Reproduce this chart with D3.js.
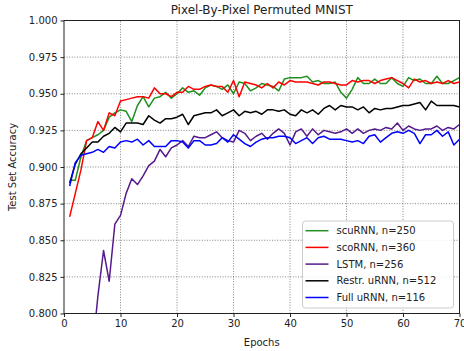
<!DOCTYPE html>
<html>
<head>
<meta charset="utf-8">
<script src="https://cdn.jsdelivr.net/npm/d3@7"></script>
<style>
  body { margin: 0; background: #fff; }
  text { font-family: "DejaVu Sans", sans-serif; fill: #222; }
</style>
</head>
<body>
<div id="chart"></div>
<script>
// epochs 1..70
const epochs = d3.range(1, 71);

const scuRNN = [
  0.891, 0.891, 0.907, 0.918, 0.920, 0.922, 0.925, 0.934, 0.937, 0.939,
  0.938, 0.931, 0.942, 0.948, 0.941, 0.947, 0.948, 0.951, 0.947, 0.950,
  0.954, 0.951, 0.952, 0.949, 0.954, 0.956, 0.955, 0.953, 0.956, 0.950,
  0.958, 0.957, 0.952, 0.954, 0.957, 0.956, 0.955, 0.952, 0.960, 0.961,
  0.961, 0.961, 0.962, 0.958, 0.959, 0.957, 0.957, 0.958, 0.951, 0.947,
  0.953, 0.961, 0.957, 0.957, 0.960, 0.957, 0.957, 0.961, 0.957, 0.955,
  0.961, 0.959, 0.960, 0.957, 0.957, 0.962, 0.957, 0.957, 0.959, 0.961
];

const scoRNN = [
  0.866, 0.882, 0.898, 0.918, 0.920, 0.931, 0.925, 0.937, 0.935, 0.945,
  0.946, 0.947, 0.948, 0.948, 0.947, 0.954, 0.950, 0.950, 0.948, 0.951,
  0.951, 0.955, 0.953, 0.953, 0.955, 0.956, 0.955, 0.955, 0.951, 0.959,
  0.948, 0.958, 0.957, 0.956, 0.954, 0.957, 0.954, 0.958, 0.956, 0.959,
  0.958, 0.958, 0.958, 0.957, 0.956, 0.958, 0.958, 0.957, 0.956, 0.956,
  0.959, 0.958, 0.959, 0.959, 0.957, 0.959, 0.960, 0.961, 0.959, 0.957,
  0.954, 0.960, 0.958, 0.959, 0.957, 0.958, 0.957, 0.959, 0.957, 0.958
];

// LSTM is below the axis for the first epochs
const lstm = [
  null, null, null, null, 0.773, 0.812, 0.843, 0.822, 0.861, 0.867,
  0.882, 0.892, 0.888, 0.894, 0.901, 0.904, 0.912, 0.907, 0.913, 0.915,
  0.918, 0.914, 0.921, 0.920, 0.920, 0.922, 0.924, 0.920, 0.918, 0.917,
  0.925, 0.923, 0.918, 0.921, 0.923, 0.919, 0.923, 0.926, 0.923, 0.915,
  0.924, 0.926, 0.921, 0.926, 0.922, 0.925, 0.924, 0.923, 0.924, 0.926,
  0.923, 0.926, 0.923, 0.925, 0.926, 0.925, 0.927, 0.926, 0.930, 0.925,
  0.928, 0.926, 0.925, 0.926, 0.926, 0.928, 0.925, 0.927, 0.926, 0.929
];

const restrURNN = [
  0.889, 0.902, 0.909, 0.913, 0.917, 0.917, 0.921, 0.923, 0.927, 0.924,
  0.930, 0.930, 0.930, 0.929, 0.935, 0.932, 0.930, 0.933, 0.933, 0.934,
  0.936, 0.929, 0.935, 0.936, 0.937, 0.937, 0.939, 0.935, 0.937, 0.939,
  0.935, 0.938, 0.937, 0.938, 0.936, 0.939, 0.939, 0.938, 0.939, 0.936,
  0.935, 0.939, 0.937, 0.939, 0.936, 0.940, 0.942, 0.939, 0.942, 0.941,
  0.941, 0.939, 0.941, 0.937, 0.940, 0.939, 0.940, 0.940, 0.941, 0.942,
  0.942, 0.943, 0.944, 0.939, 0.945, 0.942, 0.942, 0.942, 0.942, 0.941
];

const fullURNN = [
  0.887, 0.903, 0.908, 0.909, 0.910, 0.912, 0.910, 0.914, 0.913, 0.917,
  0.918, 0.917, 0.919, 0.915, 0.918, 0.914, 0.914, 0.914, 0.918, 0.918,
  0.917, 0.913, 0.918, 0.918, 0.915, 0.915, 0.916, 0.920, 0.917, 0.922,
  0.919, 0.916, 0.914, 0.917, 0.919, 0.920, 0.920, 0.921, 0.921, 0.920,
  0.916, 0.918, 0.920, 0.916, 0.920, 0.921, 0.919, 0.919, 0.919, 0.918,
  0.917, 0.918, 0.916, 0.921, 0.922, 0.917, 0.920, 0.923, 0.924, 0.923,
  0.925, 0.923, 0.916, 0.922, 0.922, 0.925, 0.921, 0.924, 0.915, 0.919
];

const seriesNames = ["scuRNN, n=250", "scoRNN, n=360", "LSTM, n=256", "Restr. uRNN, n=512", "Full uRNN, n=116"];
const seriesValues = [scuRNN, scoRNN, lstm, restrURNN, fullURNN];
const seriesColors = ["#1f8f1f", "#ff0000", "#551a8b", "#000000", "#0000ff"];

const xTicks = [0, 10, 20, 30, 40, 50, 60, 70];
const yTicks = [0.800, 0.825, 0.850, 0.875, 0.900, 0.925, 0.950, 0.975, 1.000];

const width = 464, height = 351;
const margin = { top: 20.5, right: 4.5, bottom: 37.5, left: 64 };

const svg = d3.select("#chart").append("svg")
    .attr("width", width)
    .attr("height", height);

const x = d3.scaleLinear().domain([0, 70]).range([margin.left, width - margin.right]);
const y = d3.scaleLinear().domain([0.8, 1.0]).range([height - margin.bottom, margin.top]);

svg.append("defs").append("clipPath").attr("id", "plot-clip")
    .append("rect")
    .attr("x", x(0)).attr("y", y(1))
    .attr("width", x(70) - x(0)).attr("height", y(0.8) - y(1));

// grid
const grid = svg.append("g");
grid.selectAll("line.gx").data(xTicks.slice(1, -1)).enter().append("line")
    .attr("x1", d => x(d)).attr("x2", d => x(d))
    .attr("y1", y(0.8)).attr("y2", y(1))
    .attr("stroke", "#666").attr("stroke-width", 0.8).attr("stroke-dasharray", "1,1.6");
grid.selectAll("line.gy").data(yTicks.slice(1, -1)).enter().append("line")
    .attr("y1", d => y(d)).attr("y2", d => y(d))
    .attr("x1", x(0)).attr("x2", x(70))
    .attr("stroke", "#666").attr("stroke-width", 0.8).attr("stroke-dasharray", "1,1.6");

// lines
const line = d3.line()
    .defined(d => d[1] !== null)
    .x(d => x(d[0]))
    .y(d => y(d[1]));

const plot = svg.append("g").attr("clip-path", "url(#plot-clip)");
seriesValues.forEach((vals, i) => {
    plot.append("path")
        .datum(epochs.map((e, j) => [e, vals[j]]))
        .attr("fill", "none")
        .attr("stroke", seriesColors[i])
        .attr("stroke-width", 1.5)
        .attr("stroke-linejoin", "round")
        .attr("d", line);
});

// axes
const xAxis = svg.append("g")
    .attr("transform", `translate(0,${y(0.8)})`)
    .call(d3.axisBottom(x).tickValues(xTicks).tickSize(3.5).tickPadding(3).tickFormat(d3.format("d")));
const yAxis = svg.append("g")
    .attr("transform", `translate(${x(0)},0)`)
    .call(d3.axisLeft(y).tickValues(yTicks).tickSize(3.5).tickPadding(3).tickFormat(d3.format(".3f")));

[xAxis, yAxis].forEach(a => {
    a.select(".domain").remove();
    a.selectAll("text").attr("font-size", 10).attr("font-family", "DejaVu Sans, sans-serif").attr("fill", "#222");
    a.selectAll("line").attr("stroke", "#222");
});

// frame
svg.append("rect")
    .attr("x", x(0)).attr("y", y(1))
    .attr("width", x(70) - x(0)).attr("height", y(0.8) - y(1))
    .attr("fill", "none").attr("stroke", "#222").attr("stroke-width", 1);

// labels
svg.append("text")
    .attr("x", (x(0) + x(70)) / 2).attr("y", 14)
    .attr("text-anchor", "middle").attr("font-size", 12)
    .text("Pixel-By-Pixel Permuted MNIST");

svg.append("text")
    .attr("x", (x(0) + x(70)) / 2).attr("y", 346)
    .attr("text-anchor", "middle").attr("font-size", 10)
    .text("Epochs");

svg.append("text")
    .attr("transform", `translate(16,${(y(0.8) + y(1)) / 2}) rotate(-90)`)
    .attr("text-anchor", "middle").attr("font-size", 10)
    .text("Test Set Accuracy");

// legend
const legend = svg.append("g").attr("transform", "translate(302.5,221)");
legend.append("rect")
    .attr("width", 151).attr("height", 87)
    .attr("rx", 3)
    .attr("fill", "#fff").attr("fill-opacity", 0.85)
    .attr("stroke", "#ccc").attr("stroke-width", 1);

const rows = legend.selectAll("g.row").data(seriesNames).enter().append("g")
    .attr("transform", (d, i) => `translate(0,${9.7 + i * 16.7})`);
rows.append("line")
    .attr("x1", 3).attr("x2", 26)
    .attr("stroke", (d, i) => seriesColors[i]).attr("stroke-width", 1.5);
rows.append("text")
    .attr("x", 34).attr("y", 3.6)
    .attr("font-size", 10)
    .text(d => d);
</script>
</body>
</html>
